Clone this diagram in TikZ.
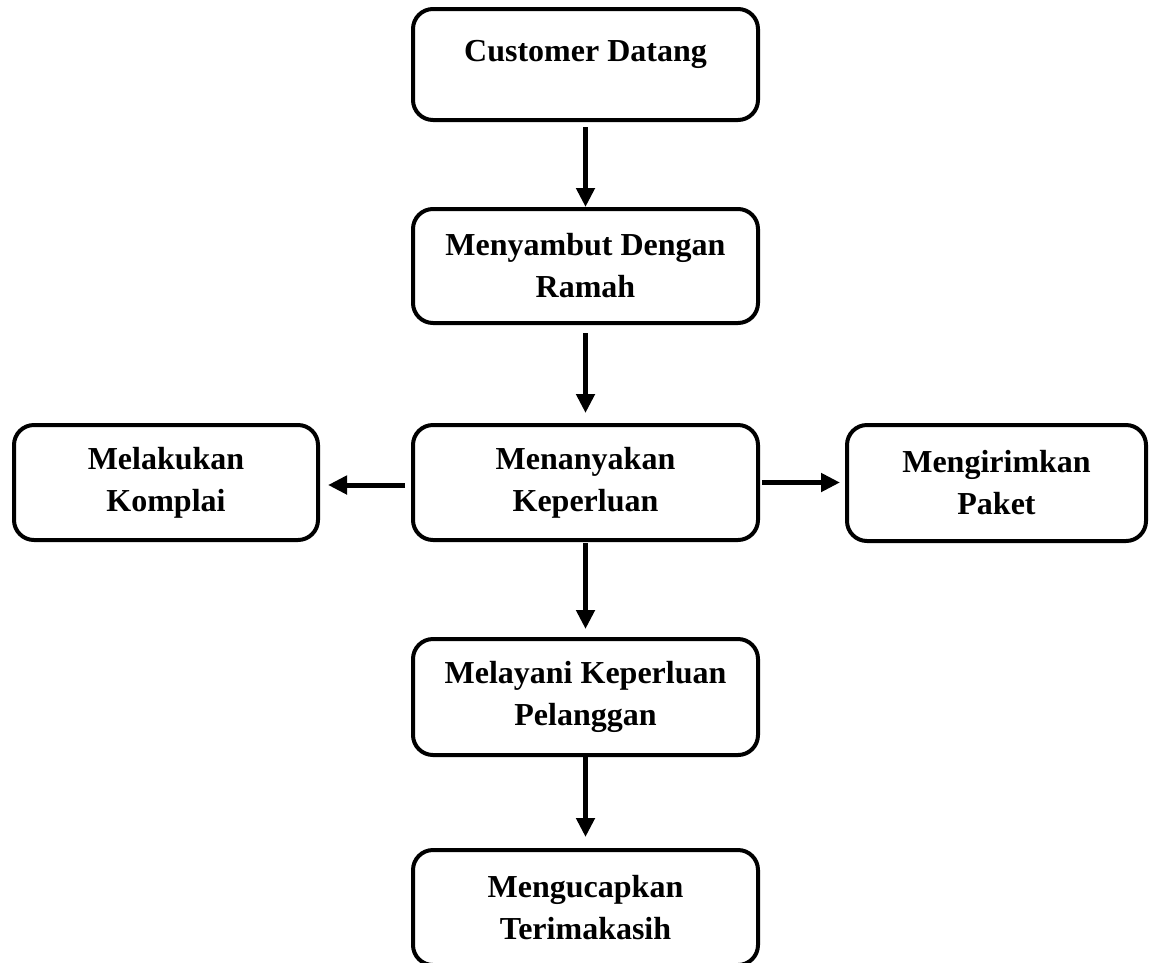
\documentclass[tikz,border=0pt]{standalone}
\usepackage{fontspec}
\setmainfont{Liberation Serif}
\usetikzlibrary{arrows.meta}
\begin{document}
\begin{tikzpicture}[x=1pt,y=-1pt,
  box/.style={draw=black, line width=4pt, rounded corners=20pt, align=center,
    font=\fontsize{32}{42}\selectfont\bfseries, inner sep=0pt, outer sep=0pt},
  arr/.style={line width=5pt, -{Triangle[width=18pt,length=19pt]}}]
\useasboundingbox (0,0) rectangle (1150,962);
\clip (0,0) rectangle (1150,962);
\node[box, minimum width=345pt, minimum height=111pt] (b1) at (585.5,64.5) {Customer Datang\\[-15pt]\mbox{}};
\node[box, minimum width=345pt, minimum height=114pt] (b2) at (585.5,266) {Menyambut Dengan\\Ramah};
\node[box, minimum width=345pt, minimum height=115pt] (b3) at (585.5,482.5) {Menanyakan\\Keperluan};
\node[box, minimum width=304pt, minimum height=115pt] (b4) at (166,482.5) {Melakukan\\Komplai};
\node[box, minimum width=299pt, minimum height=116pt] (b5) at (996.5,483) {Mengirimkan\\Paket};
\node[box, minimum width=345pt, minimum height=116pt] (b6) at (585.5,697) {Melayani Keperluan\\Pelanggan};
\node[box, minimum width=345pt, minimum height=115pt] (b7) at (585.5,907.5) {Mengucapkan\\Terimakasih};
\draw[arr] ([yshift=-7pt]b1.south) -- ([yshift=2pt]b2.north);
\draw[arr] ([yshift=-10pt]b2.south) -- ([yshift=12pt]b3.north);
\draw[arr] ([yshift=-3pt]b3.south) -- ([yshift=10pt]b6.north);
\draw[arr] ([yshift=-2pt]b6.south) -- ([yshift=13pt]b7.north);
\draw[arr] ([xshift=-8pt,yshift=-2.5pt]b3.west) -- ([xshift=10pt,yshift=-2.5pt]b4.east);
\draw[arr] ([xshift=4pt]b3.east) -- ([xshift=-7pt]b5.west |- b3.east);
\end{tikzpicture}
\end{document}
